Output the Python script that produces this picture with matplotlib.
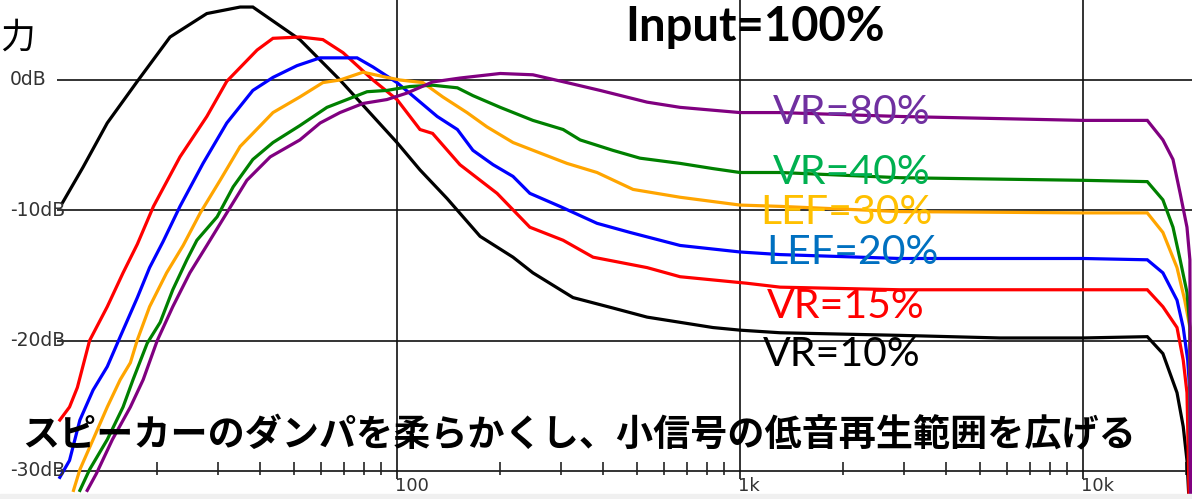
import matplotlib
matplotlib.use("Agg")
import matplotlib.pyplot as plt

# --- data ---
# frequency (Hz) / level (dB) for each curve
f_vr10 = [10.6, 12.15, 14.3, 17.5, 21.8, 27.9, 34.9, 38.0, 52.1, 68.2, 100, 116.7, 140, 174.7,
          217.9, 249, 326, 426, 536, 669, 834, 1000, 1309, 2926, 5725, 10000, 15400, 17100,
          18800, 19600, 20100, 20400]
db_vr10 = [-9.4, -6.7, -3.3, -0.1, 3.3, 5.1, 5.6, 5.6, 3.1, 0.0, -4.8, -6.9, -9.1, -12.0,
           -13.6, -14.8, -16.7, -17.5, -18.2, -18.6, -19.0, -19.2, -19.4, -19.6, -19.8, -19.8,
           -19.7, -21.0, -24.0, -26.6, -29.2, -32.5]

f_vr15 = [10.4, 11.1, 11.7, 12.7, 14.3, 15.9, 17.5, 19.5, 23.3, 27.9, 31.9, 39.1, 43.5, 52.1,
          60.8, 69.6, 85.1, 100, 116.7, 127, 152.6, 195.8, 244, 305, 373, 536, 669, 1047, 1309,
          2926, 10000, 15400, 17100, 18800, 19600, 20100, 20200, 20400]
db_vr15 = [-26.1, -25.1, -23.6, -20.0, -17.4, -14.8, -12.6, -9.7, -5.9, -2.8, -0.1, 2.3, 3.2,
           3.3, 3.1, 2.1, 0.0, -1.5, -3.8, -4.1, -6.5, -8.7, -11.3, -12.3, -13.6, -14.4, -15.1,
           -15.6, -15.9, -16.1, -16.1, -16.1, -17.4, -19.0, -21.5, -24.0, -26.6, -32.5]

f_lef20 = [10.4, 11.1, 11.9, 13.0, 14.3, 15.6, 17.5, 19.0, 20.8, 23.3, 27.2, 31.9, 38.0, 43.5,
           51.1, 59.7, 76.5, 85.1, 100, 111, 131, 150, 166.5, 190.6, 217.9, 244, 298.5, 383,
           478, 669, 1000, 1309, 2926, 10000, 15400, 17100, 18800, 19600, 20200, 20500, 20600]
db_lef20 = [-30.5, -29.2, -26.1, -23.8, -22.0, -19.7, -16.7, -14.4, -12.4, -9.7, -6.4, -3.3,
            -0.8, 0.2, 1.1, 1.7, 1.7, 1.0, -0.2, -1.2, -2.8, -3.8, -5.4, -6.5, -7.4, -8.7, -9.7,
            -11.0, -11.7, -12.7, -13.2, -13.4, -13.7, -13.7, -13.8, -14.8, -16.9, -19.0, -21.5,
            -24.0, -32.5]

f_lef30 = [11.4, 11.9, 13.0, 14.3, 15.6, 16.7, 17.5, 19.0, 21.3, 23.8, 26.7, 30.5, 34.9, 38.0,
           43.5, 52.1, 60.8, 68.2, 79.6, 93.5, 102, 119, 136, 160, 183, 218, 261, 313, 383, 488,
           669, 1000, 1309, 2926, 10000, 15400, 17100, 18800, 19800, 20500, 20600]
db_lef30 = [-31.5, -29.9, -27.6, -25.1, -23.0, -21.7, -19.95, -17.4, -14.8, -12.7, -10.2, -7.7,
            -5.1, -4.1, -2.5, -1.3, -0.2, 0.0, 0.6, 0.2, 0.0, -0.2, -1.3, -2.5, -3.6, -4.8, -5.6,
            -6.4, -7.1, -8.4, -9.0, -9.6, -9.7, -10.1, -10.2, -10.2, -11.7, -14.4, -16.9, -19.0,
            -32.5]

f_vr40 = [11.9, 12.7, 14.3, 15.9, 17.0, 18.7, 20.4, 22.2, 24.4, 26.1, 29.9, 33.3, 38.0, 43.5,
          52.1, 62.5, 71.5, 81.8, 93.5, 109, 127, 150, 166.5, 200, 249, 305, 342, 426, 511, 669,
          834, 1000, 1309, 2926, 10000, 15400, 17100, 18300, 19200, 20100, 20500, 20600]
db_vr40 = [-31.5, -29.9, -27.6, -25.1, -23.0, -20.2, -18.6, -16.1, -13.8, -12.3, -10.5, -8.2,
           -6.1, -4.8, -3.5, -2.1, -1.5, -0.9, -0.8, -0.5, -0.4, -0.6, -1.2, -2.1, -3.1, -3.8,
           -4.6, -5.4, -6.0, -6.4, -6.8, -7.1, -7.1, -7.5, -7.7, -7.8, -9.2, -11.3, -13.8, -16.3,
           -19.0, -32.5]

f_vr80 = [12.5, 13.3, 14.8, 16.7, 18.2, 20.0, 22.2, 24.9, 27.9, 31.9, 36.5, 42.7, 52.1, 59.7,
          68.2, 79.6, 93.5, 107, 127, 152.6, 200, 249, 313, 391, 536, 669, 1000, 1309, 2926,
          10000, 15400, 17100, 18300, 19200, 20100, 20500, 20600]
db_vr80 = [-31.5, -30.2, -27.6, -25.1, -23.0, -20.0, -17.4, -14.8, -12.7, -10.2, -7.7, -5.9,
           -4.6, -3.3, -2.5, -1.8, -1.5, -1.0, -0.15, 0.15, 0.5, 0.4, -0.2, -0.8, -1.7, -2.1,
           -2.5, -2.5, -2.8, -3.1, -3.1, -4.6, -6.1, -8.7, -11.3, -13.8, -32.5]

labels = ["VR=80%", "VR=40%", "LEF=30%", "LEF=20%", "VR=15%", "VR=10%"]
ytick_db = [0, -10, -20, -30]
ytick_labels = ["0dB", "-10dB", "-20dB", "-30dB"]
xgrid_f = [100, 1000, 10000]
xgrid_labels = ["100", "1k", "10k"]
minor_f = [20, 30, 40, 50, 60, 70, 80, 90, 200, 300, 400, 500, 600, 700, 800, 900,
           2000, 3000, 4000, 5000, 6000, 7000, 8000, 9000, 20000]

title = "Input=100%"
ylabel = "力"
caption = "スピーカーのダンパを柔らかくし、小信号の低音再生範囲を広げる"

# --- figure ---
W, H = 1192, 499
fig = plt.figure(figsize=(W / 100, H / 100), dpi=100)
ax = fig.add_axes([0, 0, 1, 1])
ax.set_xscale('log')
ax.set_xlim(6.96, 20790)
ax.set_ylim(-32.16, 6.14)
ax.axis('off')


def px(x, y):
    # pixel position -> figure fraction
    return x / W, 1 - y / H


# grid
for d in ytick_db:
    ax.hlines(d, 10.2, 20790, color='#111111', lw=1.2, zorder=1)
for f in xgrid_f:
    ax.vlines(f, -30.6, 6.14, color='#111111', lw=1.2, zorder=1)
ax.vlines(minor_f, -30.35, -29.35, color='#222222', lw=1.2, zorder=1)

for d, lab in zip(ytick_db, ytick_labels):
    ax.text(7.44, d, lab, ha='left', va='center', fontsize=13.5, color='#333333',
            family='DejaVu Sans', zorder=5)
for f, lab in zip(xgrid_f, xgrid_labels):
    ax.text(f * 0.99, -31.15, lab, ha='left', va='center', fontsize=13, color='#333333',
            family='DejaVu Sans', zorder=5)

# curves
curves = [
    (f_vr10, db_vr10, 'black'),
    (f_vr15, db_vr15, '#FF0000'),
    (f_lef20, db_lef20, '#0000FF'),
    (f_lef30, db_lef30, '#FFA500'),
    (f_vr40, db_vr40, '#008000'),
    (f_vr80, db_vr80, '#800080'),
]
for f, d, c in curves:
    ax.plot(f, d, color=c, lw=2.3, zorder=3, solid_joinstyle='miter')

# bottom window strip
ax.axhspan(-32.16, -31.77, color='#F0F0F0', zorder=4)

# curve labels
lab_pos = [(852, 112), (852, 173), (846, 213), (852, 252), (846, 307), (842, 354)]
lab_col = ['#7030A0', '#00B050', '#FFC000', '#0070C0', '#FF0000', 'black']
for lab, (x, y), c in zip(labels, lab_pos, lab_col):
    fig.text(*px(x, y), lab, ha='center', va='center', fontsize=29.5, color=c,
             family='Lato', zorder=6)

fig.text(*px(755, 27), title, ha='center', va='center', fontsize=34, fontweight='bold',
         family='Lato', zorder=6)
fig.text(*px(0, 38), ylabel, ha='left', va='center', fontsize=25,
         family='Noto Sans CJK JP', zorder=6)
fig.text(*px(22, 436), caption, ha='left', va='center', fontsize=26.7, fontweight='bold',
         family='Noto Sans CJK JP', zorder=6)

fig.savefig("out.png", dpi=100)
